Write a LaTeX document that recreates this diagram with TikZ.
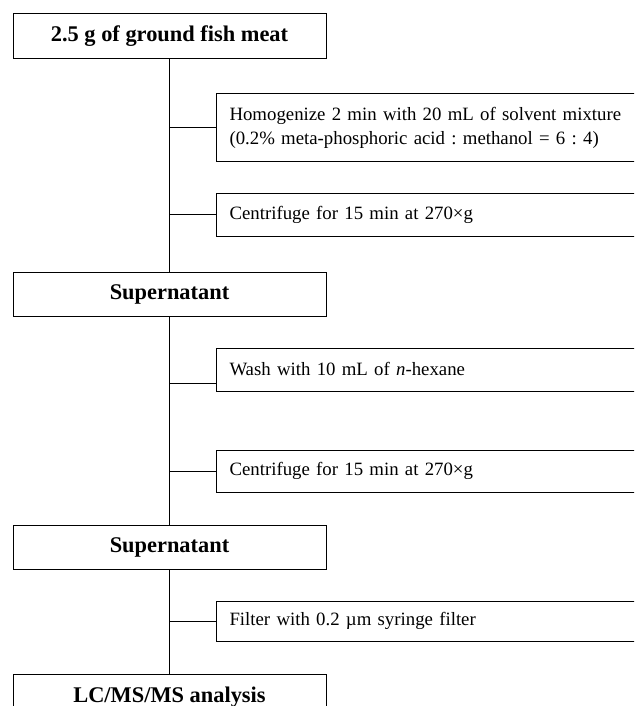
\documentclass[tikz,border=0pt]{standalone}
\usepackage{fontspec}
\setmainfont{Liberation Serif}
\usetikzlibrary{calc}
\begin{document}
\frenchspacing
\begin{tikzpicture}[x=1pt,y=-1pt,
  mainbox/.style={draw, line width=1pt, minimum width=313pt, minimum height=45pt, inner sep=0pt,
    font=\fontsize{22.4}{26}\selectfont\bfseries},
  sidebox/.style={draw, line width=1pt, anchor=west, inner xsep=13pt, inner ysep=0pt,
    align=left, text width=404pt, font=\fontsize{18.8}{24}\selectfont\frenchspacing},
  link/.style={line width=1pt}]
\useasboundingbox (0,0) rectangle (634,706);
\clip (0,0) rectangle (634,706);
% main column
\node[mainbox] (top) at (169.5,36.5) {2.5 g of ground fish meat};
\node[mainbox, minimum height=44pt] (sup1) at (169.5,294) {Supernatant};
\node[mainbox, minimum height=44pt] (sup2) at (169.5,547) {Supernatant};
\node[mainbox] (lc) at (169.5,697) {LC/MS/MS analysis};
% side steps
\node[sidebox, minimum height=67pt] (homog) at (216,127.5)
  {Homogenize 2 min with 20 mL of solvent mixture\\(0.2\% meta-phosphoric acid : methanol = 6 : 4)};
\node[sidebox, minimum height=43pt] (cent1) at (216,214.5) {Centrifuge for 15 min at 270×g};
\node[sidebox, minimum height=43pt] (wash) at (216,369.5) {Wash with 10 mL of \textit{n}-hexane};
\node[sidebox, minimum height=42pt] (cent2) at (216,471) {Centrifuge for 15 min at 270×g};
\node[sidebox, minimum height=40pt] (filt) at (216,621) {Filter with 0.2 µm syringe filter};
\coordinate (washj) at ($(wash.south west)+(0,-8)$);
% spine
\draw[link] (top.south) -- (sup1.north);
\draw[link] (sup1.south) -- (sup2.north);
\draw[link] (sup2.south) -- (lc.north);
% branches
\draw[link] (homog.west) -- (homog.west -| top.south);
\draw[link] (cent1.west) -- (cent1.west -| top.south);
\draw[link] (washj) -- (washj -| top.south);
\draw[link] (cent2.west) -- (cent2.west -| top.south);
\draw[link] (filt.west) -- (filt.west -| top.south);
\end{tikzpicture}
\end{document}
